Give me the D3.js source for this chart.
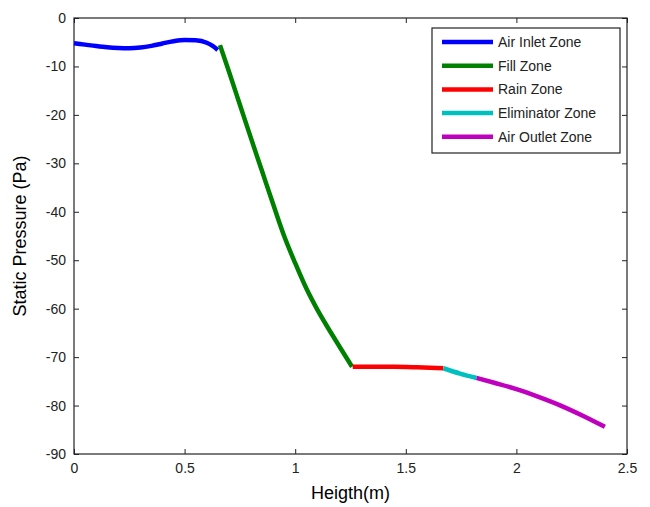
<!doctype html>
<html>
  <head>
    <meta charset="utf-8">
    <script src="https://cdn.jsdelivr.net/npm/d3@7"></script>
    <style>
      body { margin:0; background:#fff; }
      text { font-family: Arial, "Liberation Sans", sans-serif; }
    </style>
  </head>
  <body>
    <div id="my_dataviz"></div>
    <script>
      // zone names and colours
      var zones = ["Air Inlet Zone", "Fill Zone", "Rain Zone", "Eliminator Zone", "Air Outlet Zone"];
      var zoneColors = ["#0000ff", "#008000", "#ff0000", "#00bfbf", "#bf00bf"];

      // one pair of arrays per zone
      var inletX = [0, 0.05, 0.1, 0.15, 0.2, 0.25, 0.3, 0.35, 0.4, 0.45, 0.5, 0.55, 0.6, 0.625, 0.65];
      var inletY = [-5.2, -5.5, -5.8, -6.05, -6.2, -6.25, -6.1, -5.75, -5.25, -4.8, -4.55, -4.6, -5.1, -5.7, -6.6];
      var fillX = [0.66, 0.70, 0.75, 0.80, 0.85, 0.90, 0.95, 1.00, 1.05, 1.10, 1.15, 1.20, 1.257];
      var fillY = [-5.6, -11.0, -17.9, -24.8, -31.6, -38.4, -45.0, -50.6, -55.8, -60.2, -64.1, -67.8, -72.0];
      var rainX = [1.26, 1.35, 1.45, 1.55, 1.67];
      var rainY = [-72.0, -72.0, -72.0, -72.1, -72.3];
      var elimX = [1.67, 1.745, 1.82];
      var elimY = [-72.3, -73.4, -74.3];
      var outletX = [1.82, 1.9, 2.0, 2.1, 2.2, 2.3, 2.4];
      var outletY = [-74.3, -75.3, -76.6, -78.2, -80.0, -82.1, -84.4];

      var xTicks = [0, 0.5, 1, 1.5, 2, 2.5];
      var yTicks = [0, -10, -20, -30, -40, -50, -60, -70, -80, -90];

      var allX = [inletX, fillX, rainX, elimX, outletX];
      var allY = [inletY, fillY, rainY, elimY, outletY];

      var dataReady = zones.map(function(name, i) {
        return {
          name: name,
          color: zoneColors[i],
          values: allX[i].map(function(x, j) { return {x: x, y: allY[i][j]}; })
        };
      });

      var margin = {top:18, right:23, bottom:53, left:74},
        width = 650 - margin.left - margin.right,
        height = 507 - margin.top - margin.bottom;

      var svg = d3.select("#my_dataviz")
        .append("svg")
          .attr("width", 650)
          .attr("height", 507)
        .append("g")
          .attr("transform", "translate(" + margin.left + "," + margin.top + ")");

      var x = d3.scaleLinear().domain([0, 2.5]).range([0, width]);
      var y = d3.scaleLinear().domain([-90, 0]).range([height, 0]);

      // plain hyphen minus, like the original
      var fmt = function(d) { return String(d); };

      // axes, MATLAB style: ticks inward, mirrored on top and right
      function styleAxis(g) {
        g.select(".domain").remove();
        g.selectAll("line").attr("stroke", "#222");
        g.selectAll("text").style("font-size", "14px").attr("fill", "#222");
      }
      svg.append("g")
        .attr("transform", "translate(0," + height + ")")
        .call(d3.axisBottom(x).tickValues(xTicks).tickSizeInner(-5).tickPadding(9).tickFormat(fmt))
        .call(styleAxis);
      svg.append("g")
        .call(d3.axisLeft(y).tickValues(yTicks).tickSizeInner(-5).tickPadding(8).tickFormat(fmt))
        .call(styleAxis);
      svg.append("g")
        .call(d3.axisTop(x).tickValues(xTicks).tickSizeInner(-5).tickFormat(""))
        .call(styleAxis);
      svg.append("g")
        .attr("transform", "translate(" + width + ",0)")
        .call(d3.axisRight(y).tickValues(yTicks).tickSizeInner(-5).tickFormat(""))
        .call(styleAxis);

      svg.append("rect")
        .attr("width", width)
        .attr("height", height)
        .attr("fill", "none")
        .attr("stroke", "#222")
        .attr("stroke-width", 1.2);

      var line = d3.line()
        .x(function(d) { return x(d.x); })
        .y(function(d) { return y(d.y); })
        .curve(d3.curveMonotoneX);

      svg.selectAll("myLines")
        .data(dataReady)
        .enter()
        .append("path")
          .attr("d", function(d) { return line(d.values); })
          .attr("stroke", function(d) { return d.color; })
          .style("fill", "none")
          .style("stroke-width", 4.5)
          .style("stroke-linejoin", "round");

      // axis labels
      svg.append("text")
        .attr("x", width / 2)
        .attr("y", height + 45)
        .attr("text-anchor", "middle")
        .style("font-size", "18px")
        .text("Heigth(m)");
      svg.append("text")
        .attr("transform", "translate(-48," + (height / 2) + ") rotate(-90)")
        .attr("text-anchor", "middle")
        .style("font-size", "18px")
        .text("Static Pressure (Pa)");

      // legend
      var legend = svg.append("g")
        .attr("transform", "translate(" + (432 - margin.left) + "," + (28 - margin.top) + ")");
      legend.append("rect")
        .attr("width", 188)
        .attr("height", 125)
        .attr("fill", "#fff")
        .attr("stroke", "#222")
        .attr("stroke-width", 1.2);
      var rows = legend.selectAll("myLegend")
        .data(dataReady)
        .enter()
        .append("g")
          .attr("transform", function(d, i) { return "translate(0," + (14 + i * 23.7) + ")"; });
      rows.append("line")
        .attr("x1", 10).attr("x2", 61)
        .attr("stroke", function(d) { return d.color; })
        .attr("stroke-width", 4.5);
      rows.append("text")
        .attr("x", 66)
        .attr("dy", "0.35em")
        .style("font-size", "14px")
        .attr("fill", "#222")
        .text(function(d) { return d.name; });
    </script>
  </body>
</html>
